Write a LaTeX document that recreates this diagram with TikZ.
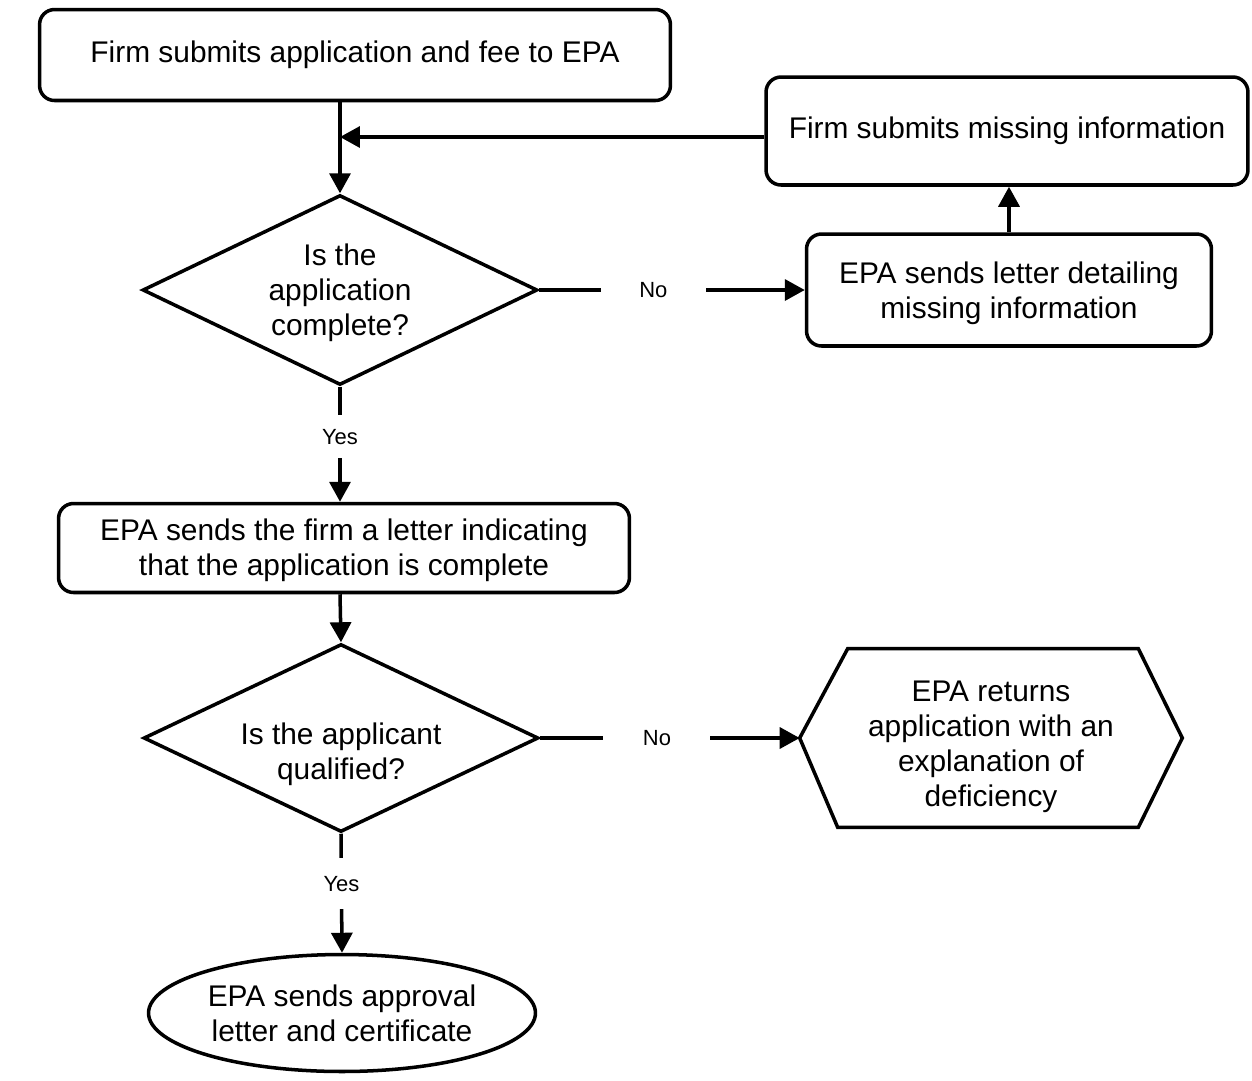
\documentclass[tikz,border=0pt]{standalone}
\usepackage{fontspec}
\setmainfont{Liberation Sans}
\usetikzlibrary{shapes.geometric,arrows.meta}
\begin{document}
\begin{tikzpicture}[x=0.02cm,y=-0.02cm,
 every node/.style={font=\fontsize{17}{20}\selectfont, align=center},
 box/.style={draw, line width=2pt, rounded corners=0.3cm, inner sep=0pt},
 dec/.style={draw, diamond, aspect=2, line width=2pt, inner sep=0pt},
 conn/.style={line width=2pt, -{Triangle[length=0.4cm,width=0.42cm]}},
 plain/.style={line width=2pt},
 lab/.style={fill=white, font=\fontsize{12.5}{14}\selectfont, inner sep=0pt}
]
\useasboundingbox (0,0) rectangle (1252,1080);

\node[box, minimum width=12.62cm, minimum height=1.82cm] (b1) at (355,55) {Firm submits application and fee to EPA};
\node[box, minimum width=9.64cm, minimum height=2.16cm] (b2) at (1007,131) {Firm submits missing information};
\node[dec, minimum width=7.9cm, minimum height=3.8cm] (d1) at (340,290) {};
\node (d1t) at (340,293) {Is the\\application\\complete?};
\node[box, minimum width=8.1cm, minimum height=2.24cm] (b4) at (1009,290) {};
\node (b4t) at (1009,293) {EPA sends letter detailing\\missing information};
\node[box, minimum width=11.42cm, minimum height=1.78cm] (b5) at (344,548) {};
\node (b5t) at (344,550) {EPA sends the firm a letter indicating\\that the application is complete};
\node[dec, minimum width=7.9cm, minimum height=3.76cm] (d2) at (341,738) {};
\node (d2t) at (341,754) {Is the applicant\\qualified?};
\node[minimum width=7.64cm, minimum height=3.56cm, inner sep=0pt] (hex) at (991,738) {};
\node (hext) at (991,747) {EPA returns\\application with an\\explanation of\\deficiency};
\draw[plain, line join=miter] (hex.west) -- ([xshift=0.96cm]hex.north west) -- ([xshift=-0.88cm]hex.north east) -- (hex.east) -- ([xshift=-0.88cm]hex.south east) -- ([xshift=0.76cm]hex.south west) -- cycle;
\node[draw, ellipse, line width=2pt, inner sep=0pt, minimum width=7.74cm, minimum height=2.34cm] (e1) at (342,1013) {EPA sends approval\\letter and certificate};

\draw[conn] (d1.north |- b1.south) -- (d1.north);
\draw[conn] ([yshift=-0.12cm]b2.west) -- ([yshift=-0.12cm]b2.west -| d1.north);
\draw[conn] (b4.north) -- (b4.north |- b2.south);
\draw[conn] (d1.east) -- node[lab, pos=0.43, minimum width=2.1cm, minimum height=0.5cm] {No} (b4.west);
\draw[conn] (d1.south) -- node[lab, pos=0.435, minimum height=0.86cm, minimum width=0.3cm] {Yes} (d1.south |- b5.north);
\draw[conn] (d1.south |- b5.south) -- (d2.north);
\draw[conn] (d2.east) -- node[lab, pos=0.45, minimum width=2.14cm, minimum height=0.5cm] {No} (hex.west);
\draw[conn] (d2.south) -- node[lab, pos=0.42, minimum height=1.02cm, minimum width=0.3cm] {Yes} (e1.north);
\end{tikzpicture}
\end{document}
